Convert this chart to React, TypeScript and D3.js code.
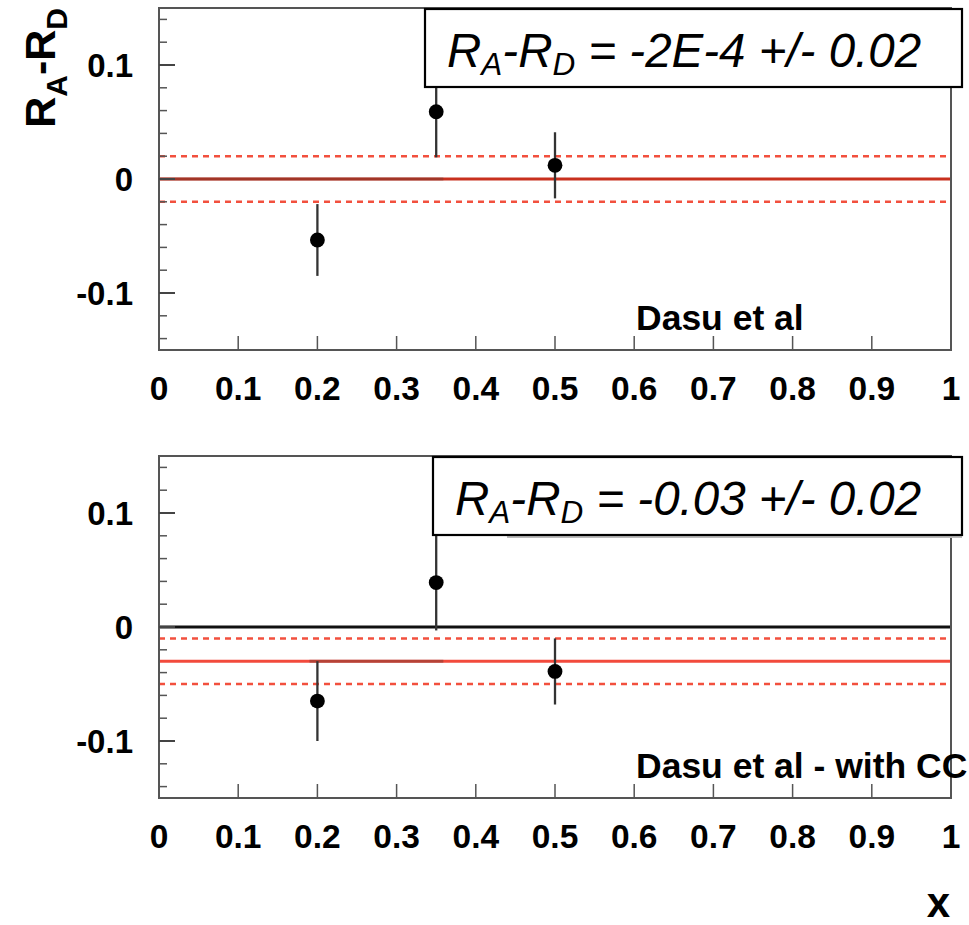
import React from "react";
import * as d3 from "d3";

const X_TICKS = [0, 0.1, 0.2, 0.3, 0.4, 0.5, 0.6, 0.7, 0.8, 0.9, 1];
const X_TICK_LABELS = ["0", "0.1", "0.2", "0.3", "0.4", "0.5", "0.6", "0.7", "0.8", "0.9", "1"];
const Y_MAJOR = [-0.1, 0, 0.1];
const Y_MAJOR_LABELS = ["-0.1", "0", "0.1"];
const Y_MINOR = [-0.14, -0.12, -0.08, -0.06, -0.04, -0.02, 0.02, 0.04, 0.06, 0.08, 0.12, 0.14];

const POINT_X = [0.2, 0.35, 0.5];

const TOP_Y = [-0.0535, 0.059, 0.012];
const TOP_ERR = [0.0315, 0.04, 0.029];
const TOP_FIT = 0;
const TOP_FIT_ERR = 0.02;
const TOP_LABEL = "Dasu et al";
const TOP_BOX_VALUE = "-2E-4 +/- 0.02";
const TOP_DARK_SEG = [0, 0.359, 0];

const BOT_Y = [-0.065, 0.039, -0.039];
const BOT_ERR = [0.035, 0.042, 0.029];
const BOT_FIT = -0.03;
const BOT_FIT_ERR = 0.02;
const BOT_LABEL = "Dasu et al - with CC";
const BOT_BOX_VALUE = "-0.03 +/- 0.02";
const BOT_DARK_SEG = [0.19, 0.359, -0.03];
const BOT_ZERO_LINE = 0;

const FONT = "'Liberation Sans', Arial, Helvetica, sans-serif";

type PanelProps = {
  top: number;
  ys: number[];
  errs: number[];
  fit: number;
  fitErr: number;
  label: string;
  boxValue: string;
  boxLeft: number;
  darkSeg: number[];
  fitColor: string;
  zeroLine?: number;
  shadow?: boolean;
};

const x = d3.scaleLinear().domain([0, 1]).range([159, 951]);
const H = 342;

function Panel(p: PanelProps) {
  const y = d3.scaleLinear().domain([-0.15, 0.15]).range([p.top + H, p.top]);
  const x0 = x(0), x1 = x(1);
  const boxTop = p.top + 1;
  const boxH = 78;
  const boxRight = 962;
  const line = d3.line<[number, number]>().x(d => d[0]).y(d => d[1]);
  return (
    <g>
      {/* fit band */}
      <path d={line([[x0, y(p.fit + p.fitErr)], [x1, y(p.fit + p.fitErr)]]) || ""} stroke="#f2503e" strokeWidth={2.5} strokeDasharray="6,5" fill="none" />
      <path d={line([[x0, y(p.fit - p.fitErr)], [x1, y(p.fit - p.fitErr)]]) || ""} stroke="#f2503e" strokeWidth={2.5} strokeDasharray="6,5" fill="none" />
      {p.zeroLine !== undefined && (
        <path d={line([[x0, y(p.zeroLine)], [x1, y(p.zeroLine)]]) || ""} stroke="#111" strokeWidth={3} fill="none" />
      )}
      <path d={line([[x0, y(p.fit)], [x1, y(p.fit)]]) || ""} stroke={p.fitColor} strokeWidth={3} fill="none" />
      <path d={line([[x(p.darkSeg[0]), y(p.darkSeg[2])], [x(p.darkSeg[1]), y(p.darkSeg[2])]]) || ""} stroke="#7a3a30" strokeOpacity={0.5} strokeWidth={3} fill="none" />
      {/* data */}
      {POINT_X.map((px, i) => (
        <g key={i}>
          <line x1={x(px)} x2={x(px)} y1={y(p.ys[i] + p.errs[i])} y2={y(p.ys[i] - p.errs[i])} stroke="#333" strokeWidth={2.3} />
          <circle cx={x(px)} cy={y(p.ys[i])} r={7.4} fill="#000" />
        </g>
      ))}
      {/* frame */}
      <rect x={x0} y={p.top} width={x1 - x0} height={H} fill="none" stroke="#555" strokeWidth={2} />
      {/* y ticks */}
      {Y_MAJOR.map((v, i) => (
        <g key={"ym" + i}>
          <line x1={x0} x2={x0 + 16} y1={y(v)} y2={y(v)} stroke="#444" strokeWidth={2} />
          <text x={133} y={y(v) + 12} textAnchor="end" fontFamily={FONT} fontWeight="bold" fontSize={33} fill="#000">{Y_MAJOR_LABELS[i]}</text>
        </g>
      ))}
      {Y_MINOR.map((v, i) => (
        <line key={"yn" + i} x1={x0} x2={x0 + 8} y1={y(v)} y2={y(v)} stroke="#555" strokeWidth={1.5} />
      ))}
      {/* x ticks */}
      {X_TICKS.map((v, i) => (
        <g key={"x" + i}>
          {i > 0 && i < X_TICKS.length - 1 && (
            <line x1={x(v)} x2={x(v)} y1={p.top + H} y2={p.top + H - 14} stroke="#555" strokeWidth={1.5} />
          )}
          <text x={x(v)} y={p.top + H + 50} textAnchor="middle" fontFamily={FONT} fontWeight="bold" fontSize={33.5} fill="#000">{X_TICK_LABELS[i]}</text>
        </g>
      ))}
      {/* label */}
      <text x={636} y={p.top + 322} fontFamily={FONT} fontWeight="bold" fontSize={35.5} fill="#000">{p.label}</text>
      {/* box */}
      {p.shadow && (
        <line x1={507} x2={boxRight} y1={boxTop + boxH + 2} y2={boxTop + boxH + 2} stroke="#bbb" strokeWidth={2} />
      )}
      <rect x={p.boxLeft} y={boxTop} width={boxRight - p.boxLeft} height={boxH} fill="#fff" stroke="#000" strokeWidth={2.2} />
      <text x={p.boxLeft + 22} y={boxTop + 58} fontFamily={FONT} fontStyle="italic" fontSize={47.5} fill="#000">
        R<tspan fontSize={31.5} dy={8}>A</tspan><tspan dy={-8}>-R</tspan><tspan fontSize={31.5} dy={8}>D</tspan><tspan dy={-8}>{" = " + p.boxValue}</tspan>
      </text>
    </g>
  );
}

export default function App() {
  return (
    <svg width={969} height={925} style={{ position: "absolute", left: 0, top: 0, background: "#fff" }}>
      <rect x={0} y={0} width={969} height={925} fill="#fff" />
      <Panel top={8} ys={TOP_Y} errs={TOP_ERR} fit={TOP_FIT} fitErr={TOP_FIT_ERR} label={TOP_LABEL} boxValue={TOP_BOX_VALUE} boxLeft={425} darkSeg={TOP_DARK_SEG} fitColor="#c8301e" />
      <Panel top={456} ys={BOT_Y} errs={BOT_ERR} fit={BOT_FIT} fitErr={BOT_FIT_ERR} label={BOT_LABEL} boxValue={BOT_BOX_VALUE} boxLeft={433} darkSeg={BOT_DARK_SEG} fitColor="#f24a3c" zeroLine={BOT_ZERO_LINE} shadow />
      {/* y axis title */}
      <text transform="translate(55,8) rotate(-90)" textAnchor="end" fontFamily={FONT} fontWeight="bold" fontSize={43} fill="#000">
        R<tspan fontSize={30} dy={12}>A</tspan><tspan dy={-12}>-R</tspan><tspan fontSize={30} dy={12}>D</tspan>
      </text>
      {/* x axis title */}
      <text x={950} y={917} textAnchor="end" fontFamily={FONT} fontWeight="bold" fontSize={42} fill="#000">x</text>
    </svg>
  );
}
